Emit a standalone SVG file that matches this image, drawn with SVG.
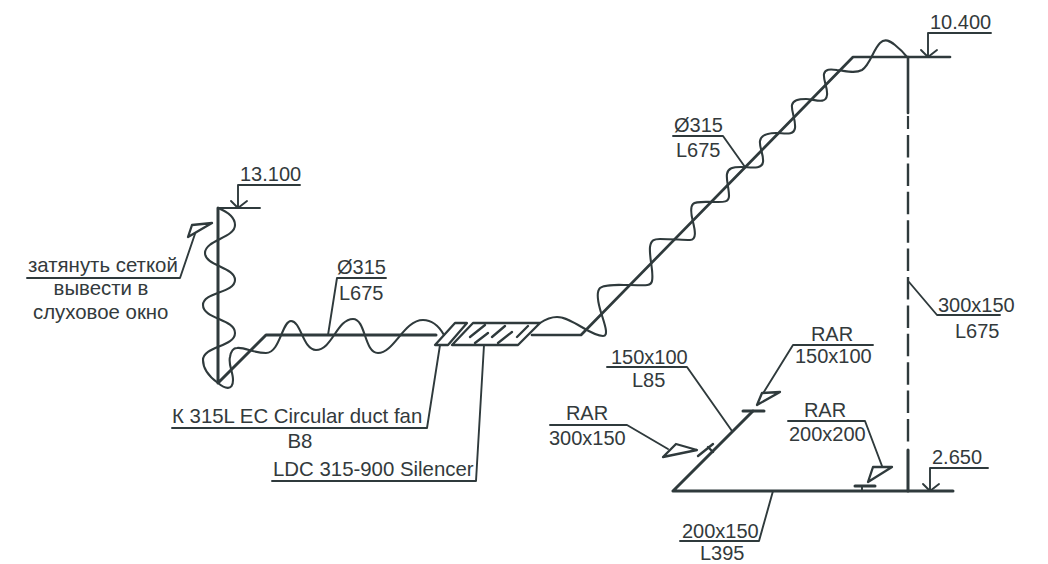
<svg xmlns="http://www.w3.org/2000/svg" width="1048" height="564" viewBox="0 0 1048 564">
<style>
text{font-family:"Liberation Sans",Arial,sans-serif;font-size:20px;fill:#333a3c}
.l{font-size:20.4px}
.m{text-anchor:middle}
path,line,polyline,polygon{fill:none;stroke:#2f3a3c;stroke-linecap:round;stroke-linejoin:round}
.duct{stroke-width:3}
.thin{stroke-width:1.9}
.box{stroke-width:2.3}
.wave{stroke-width:2.1}
.flag{fill:#fff;stroke-width:2.3}
</style>
<rect width="1048" height="564" fill="#fff"/>
<g id="ducts">
<path class="duct" d="M218 208V383L266 335H436"/>
<path class="duct" d="M532 335H581L853 57H950" style="stroke-width:2.7"/>
<path class="duct" d="M673 491L753 411M673 491H953"/>
<line class="duct" x1="908" y1="57" x2="908" y2="113" style="stroke-width:2.6"/>
<line class="duct" x1="908" y1="116" x2="908" y2="129" style="stroke-width:2.2;stroke-linecap:butt"/>
<line class="duct" x1="908" y1="135" x2="908" y2="443" stroke-dasharray="22.5 5.9" style="stroke-width:2.4;stroke-linecap:butt"/>
<line class="duct" x1="908" y1="450" x2="908" y2="491"/>
</g>
<g id="flex-connectors">
<path class="wave" d="M218 208C228 212 235 218 235 225C235 238 205 240 205 253C205 266 235 267 235 280C235 293 203 292 203 305C203 319 235 319 235 333C235 347 203 346 203 360C203 371 211 378 218 383C224 388 233 392 233 380C233 372 228 364 230 357C231 351 233 348 237 348C245 347 253 353 266 353C280 353 282 321 291 321C301 321 303 350 316 350C332 350 337 319 353 319C366 319 364 353 378 353C394 353 404 320 423 320C433 320 440 328 444 335"/>
<path class="wave" d="M540 323C546 319 551 317 557 317C572 317 590 336 603 336C610 336 603 320 600 309C597 298 597 291 600 288C605 284 618 285 630 285C642 285 651 287 652 281C654 272 649 258 650 247C651 240 654 239 660 239C672 239 682 240 690 240C697 240 695 230 693 222C691 214 690 207 693 204C696 201 705 202 714 202C722 202 729 203 729 196C729 188 726 180 727 174C728 168 733 167 741 167C750 167 762 170 763 162C764 155 759 147 760 141C761 135 768 133 776 133C784 133 794 136 795 128C796 120 791 111 792 105C793 100 798 99 806 99C814 99 826 105 827 95C828 88 823 80 824 74C825 69 830 69 837 70C846 71 855 74 862 70C870 65 873 50 880 43C885 38 890 41 895 45C900 49 904 53 907 57"/>
</g>
<g id="fan">
<polygon class="box" points="435,345 448,345 467,323 455,323"/>
</g>
<g id="silencer">
<polygon class="box" points="452,345 518,345 540,323 473,323"/>
<path class="box" d="M470 337L485 325M475 343L488 333M492 337L505 326M498 343L512 332M517 337L528 326"/>
</g>
<g id="level-13100">
<line class="thin" x1="218" y1="208" x2="260" y2="208"/>
<polyline class="thin" points="300,185 238,185 238,208"/>
<polyline class="thin" points="231,201 238,208 247,201"/>
<text x="240" y="181">13.100</text>
</g>
<g id="level-10400">
<polyline class="thin" points="991,33 928,33 928,57"/>
<polyline class="thin" points="921,50 928,57 937,50"/>
<text x="930" y="29">10.400</text>
</g>
<g id="level-2650">
<polyline class="thin" points="988,468 930,468 930,491"/>
<polyline class="thin" points="923,484 930,491 939,484"/>
<text x="932" y="464">2.650</text>
</g>
<g id="note-grid">
<polyline class="thin" points="27,278 180,278 197,228"/>
<polygon class="flag" points="192,225 212,223 188,237"/>
<text class="l" x="28" y="272">затянуть сеткой</text>
<text class="l m" x="101" y="295">вывести в</text>
<text class="l" x="33" y="319">слуховое окно</text>
</g>
<g id="label-duct-left">
<polyline class="thin" points="386,278 337,278 328,335"/>
<text x="337" y="274">Ø315</text>
<text x="339" y="300">L675</text>
</g>
<g id="label-fan">
<polyline class="thin" points="172,428 427,428 440,345"/>
<text class="l" x="172" y="423">К 315L EC Circular duct fan</text>
<text class="l m" x="300" y="448">B8</text>
</g>
<g id="label-silencer">
<polyline class="thin" points="272,481 476,481 484,345"/>
<text class="l" x="273" y="476">LDC 315-900 Silencer</text>
</g>
<g id="label-duct-right">
<polyline class="thin" points="673,136 723,136 745,167"/>
<text x="674" y="132">Ø315</text>
<text x="676" y="157">L675</text>
</g>
<g id="label-riser">
<polyline class="thin" points="909,282 937,315 1000,315"/>
<text x="938" y="312">300x150</text>
<text x="955" y="338">L675</text>
</g>
<g id="rar-150">
<polyline class="thin" points="873,345 793,345 762,395"/>
<polygon class="flag" points="757,405 762,393 780,392"/>
<line class="duct" x1="743" y1="411" x2="764" y2="411"/>
<text x="832" y="341" class="m">RAR</text>
<text x="795" y="363">150x100</text>
</g>
<g id="label-branch">
<polyline class="thin" points="607,367 687,367 732,431"/>
<text x="611" y="364">150x100</text>
<text x="632" y="387">L85</text>
</g>
<g id="rar-300">
<polyline class="thin" points="550,425 627,425 668,449"/>
<polygon class="flag" points="663,457 676,444 697,450"/>
<path class="duct" d="M698 456L713 444M708 447L713 452" style="stroke-width:2.4"/>
<text x="587" y="420" class="m">RAR</text>
<text x="549" y="445">300x150</text>
</g>
<g id="rar-200">
<polyline class="thin" points="788,421 865,421 882,466"/>
<polygon class="flag" points="868,482 873,467 892,467"/>
<line class="duct" x1="855" y1="486" x2="875" y2="486"/>
<line class="thin" x1="862" y1="486" x2="862" y2="491"/>
<text x="825" y="417" class="m">RAR</text>
<text x="789" y="441">200x200</text>
</g>
<g id="label-bottom">
<polyline class="thin" points="680,541 759,541 773,491"/>
<text x="682" y="538">200x150</text>
<text x="700" y="560">L395</text>
</g>
</svg>
